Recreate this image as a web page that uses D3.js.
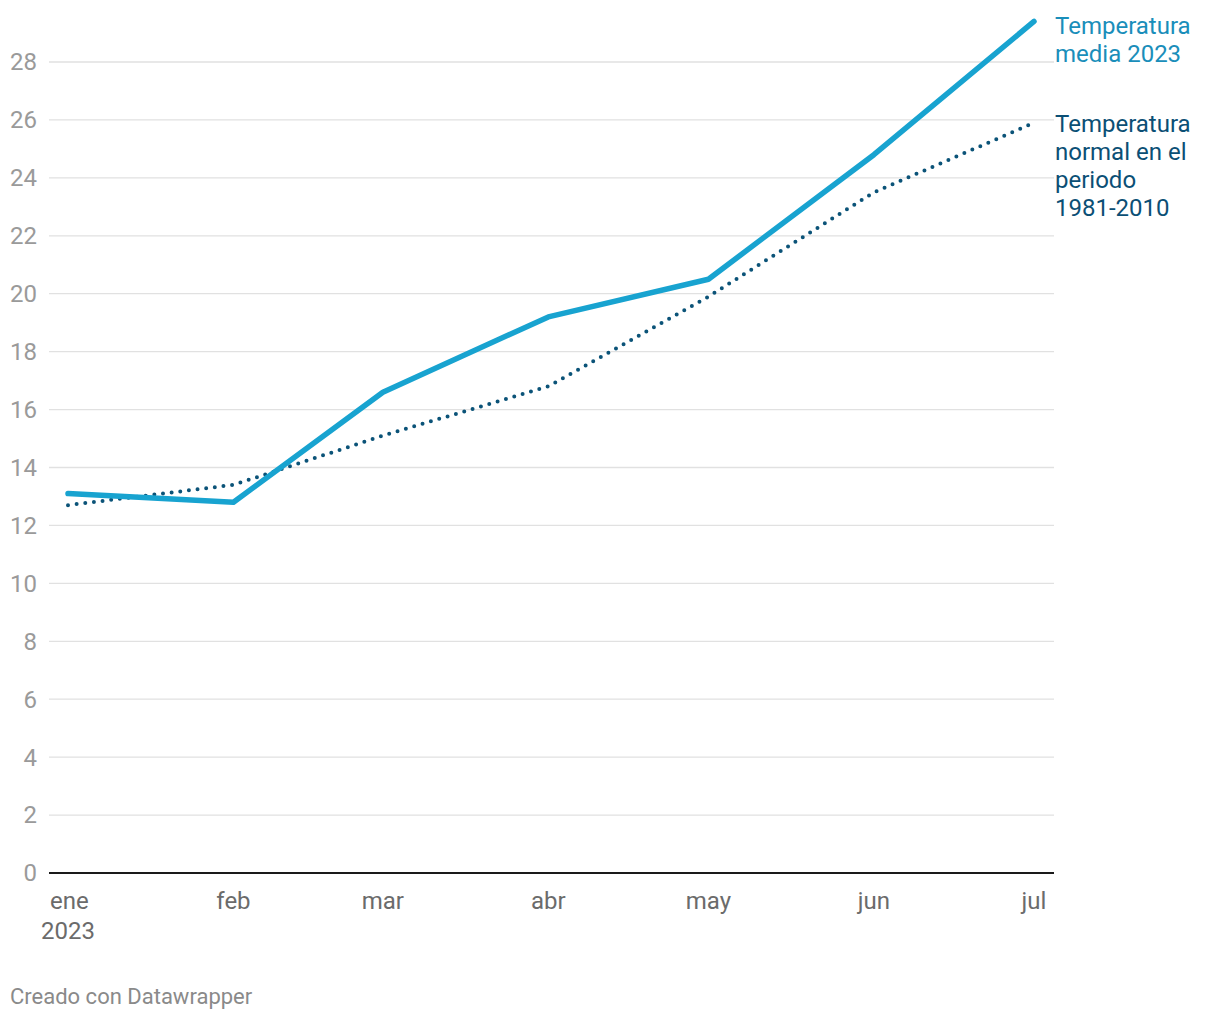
<!DOCTYPE html>
<html><head><meta charset="utf-8">
<script src="https://cdn.jsdelivr.net/npm/d3@7"></script>
<style>
body{margin:0;background:#fff;}
svg{display:block;font-family:Roboto,"Noto Sans",sans-serif;}
</style></head>
<body>
<svg id="chart" width="1220" height="1020"></svg>
<script>
const months = ["2023-01-01","2023-02-01","2023-03-01","2023-04-01","2023-05-01","2023-06-01","2023-07-01"];
const monthLabels = ["ene","feb","mar","abr","may","jun","jul"];
const media2023 = [13.1, 12.8, 16.6, 19.2, 20.5, 24.8, 29.4];
const normal = [12.7, 13.4, 15.1, 16.8, 19.9, 23.5, 25.9];
const yTicks = [0,2,4,6,8,10,12,14,16,18,20,22,24,26,28];
const labelMedia = ["Temperatura","media 2023"];
const labelNormal = ["Temperatura","normal en el","periodo","1981-2010"];
const footer = "Creado con Datawrapper";

const parse = d3.utcParse("%Y-%m-%d");
const dates = months.map(parse);
const svg = d3.select("#chart");

const x = d3.scaleUtc().domain([dates[0], dates[dates.length-1]]).range([68, 1034]);
const y = d3.scaleLinear().domain([0, 28]).range([873, 62]);
const gridX0 = 49, gridX1 = 1054;

// gridlines
svg.append("g").selectAll("line").data(yTicks.filter(d=>d>0)).join("line")
  .attr("x1", gridX0).attr("x2", gridX1)
  .attr("y1", d=>y(d)).attr("y2", d=>y(d))
  .attr("stroke", "#e1e1e1").attr("stroke-width", 1.3);

// y labels
svg.append("g").selectAll("text").data(yTicks).join("text")
  .attr("x", 37).attr("y", d=>y(d)).attr("dy", "0.35em")
  .attr("text-anchor", "end").attr("fill", "#9a9a9a")
  .attr("font-size", 24).text(d=>d);

// baseline
svg.append("line").attr("x1", gridX0).attr("x2", gridX1)
  .attr("y1", y(0)).attr("y2", y(0)).attr("stroke", "#1a1a1a").attr("stroke-width", 2);

// x labels
const xl = svg.append("g");
xl.selectAll("text").data(dates).join("text")
  .attr("x", d=>x(d)).attr("y", 909)
  .attr("text-anchor", (d,i)=> i===0 ? "start" : "middle")
  .attr("dx", (d,i)=> i===0 ? -18 : 0)
  .attr("fill", "#6b6b6b").attr("font-size", 24)
  .text((d,i)=>monthLabels[i]);
xl.append("text").attr("x", x(dates[0])).attr("y", 939).attr("text-anchor","middle")
  .attr("fill", "#6b6b6b").attr("font-size", 24).text("2023");

const line = d3.line().x((d,i)=>x(dates[i])).y(d=>y(d));

// normal dotted
svg.append("path").datum(normal).attr("d", line)
  .attr("fill","none").attr("stroke","#0b5378").attr("stroke-width",4)
  .attr("stroke-linecap","round").attr("stroke-linejoin","round")
  .attr("stroke-dasharray","0,8.7");

// media solid
svg.append("path").datum(media2023).attr("d", line)
  .attr("fill","none").attr("stroke","#18a3d0").attr("stroke-width",5.5)
  .attr("stroke-linecap","round").attr("stroke-linejoin","round");

// labels
svg.append("text").attr("font-size", 24).attr("fill", "#1a8eba")
  .selectAll("tspan").data(labelMedia).join("tspan")
  .attr("x", 1055).attr("y", (d,i)=>34 + i*28).text(d=>d);
svg.append("text").attr("font-size", 24).attr("fill", "#0b4f75")
  .selectAll("tspan").data(labelNormal).join("tspan")
  .attr("x", 1055).attr("y", (d,i)=>132 + i*28).text(d=>d);

svg.append("text").attr("x", 10).attr("y", 1004).attr("font-size", 22)
  .attr("fill", "#8a8a8a").text(footer);
</script>
</body></html>
